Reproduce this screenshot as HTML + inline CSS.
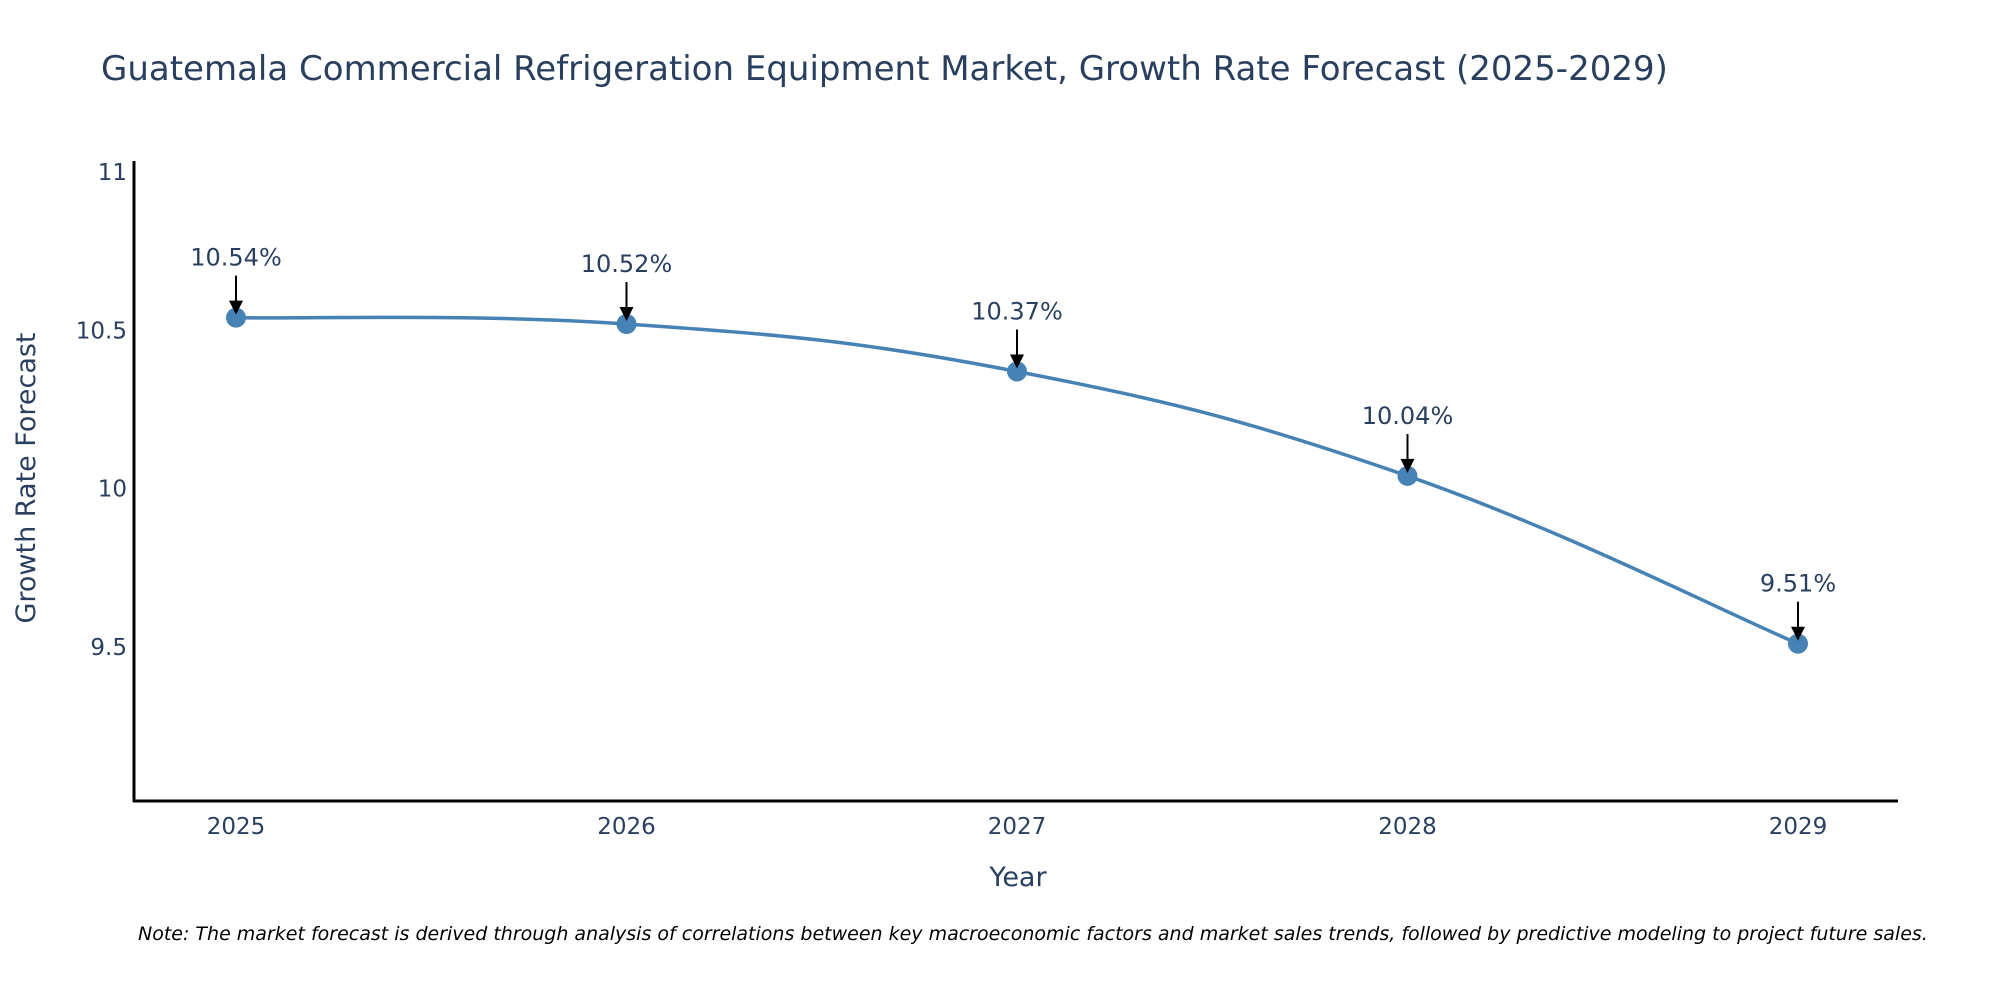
<!DOCTYPE html>
<html><head><meta charset="utf-8">
<style>
html,body{margin:0;padding:0;background:#fff;}
svg{display:block;font-family:"DejaVu Sans","Liberation Sans",sans-serif;}
</style></head>
<body>
<svg id="chart" width="2000" height="1000" viewBox="0 0 2000 1000">
  <text x="101" y="80" font-size="34" fill="#2a3f5f">Guatemala Commercial Refrigeration Equipment Market, Growth Rate Forecast (2025-2029)</text>
  <g id="yticks"></g>
  <g id="xticks"></g>
  <g id="series"></g>
  <g id="annots"></g>
  <line x1="134" y1="161" x2="134" y2="802" stroke="#000" stroke-width="3"/>
  <line x1="133" y1="801" x2="1898" y2="801" stroke="#000" stroke-width="3"/>
  <text transform="translate(35,478) rotate(-90)" text-anchor="middle" font-size="27" fill="#2a3f5f">Growth Rate Forecast</text>
  <text x="1018" y="886" text-anchor="middle" font-size="27" fill="#2a3f5f">Year</text>
  <text x="138" y="940" font-size="19" font-style="italic" fill="#000">Note: The market forecast is derived through analysis of correlations between key macroeconomic factors and market sales trends, followed by predictive modeling to project future sales.</text>
</svg>
<script>
const categories = ["2025","2026","2027","2028","2029"];
const values = [10.54, 10.52, 10.37, 10.04, 9.51];
const valueLabels = ["10.54%","10.52%","10.37%","10.04%","9.51%"];
const yTickValues = [9.5, 10, 10.5, 11];
const yTickLabels = ["9.5","10","10.5","11"];

const NS = "http://www.w3.org/2000/svg";
const yMin = 9.013, yMax = 11.035, plotTop = 161, plotBottom = 801;
function yScale(v){ return plotBottom - (v - yMin) / (yMax - yMin) * (plotBottom - plotTop); }
const x0 = 236, xStep = 390.5;
function xScale(i){ return x0 + i * xStep; }
function mk(tag, attrs, parent){ const e = document.createElementNS(NS, tag); for (const k in attrs) e.setAttribute(k, attrs[k]); parent.appendChild(e); return e; }

const yt = document.getElementById("yticks");
yTickValues.forEach((v, i) => {
  const t = mk("text", {x: 127, y: yScale(v) + 8, "text-anchor": "end", "font-size": 23, fill: "#2a3f5f"}, yt);
  
  
  t.textContent = yTickLabels[i];
});
const xt = document.getElementById("xticks");
categories.forEach((c, i) => {
  const t = mk("text", {x: xScale(i), y: 834, "text-anchor": "middle", "font-size": 23, fill: "#2a3f5f"}, xt);
  
  
  t.textContent = c;
});

const pts = values.map((v, i) => [xScale(i), yScale(v)]);
let d = "M" + pts[0][0] + "," + pts[0][1];
const tension = 0.2;
for (let i = 0; i < pts.length - 1; i++) {
  const p0 = pts[i-1] || pts[i], p1 = pts[i], p2 = pts[i+1], p3 = pts[i+2] || pts[i+1];
  const c1 = [p1[0] + (p2[0]-p0[0])*tension, p1[1] + (p2[1]-p0[1])*tension];
  const c2 = [p2[0] - (p3[0]-p1[0])*tension, p2[1] - (p3[1]-p1[1])*tension];
  d += " C" + c1.join(",") + " " + c2.join(",") + " " + p2.join(",");
}
const s = document.getElementById("series");
const line = mk("path", {d: d, fill: "none", stroke: "#4682b4", "stroke-width": 3.5}, s);


pts.forEach((p, i) => {
  const c = mk("circle", {cx: p[0], cy: p[1], r: 10, fill: "#4682b4"}, s);
  
  
});

const a = document.getElementById("annots");
pts.forEach((p, i) => {
  const ln = mk("line", {x1: p[0], y1: p[1] - 42, x2: p[0], y2: p[1] - 14, stroke: "#000", "stroke-width": 2}, a);
  
  
  const hd = mk("polygon", {points: (p[0]-7)+","+(p[1]-17)+" "+(p[0]+7)+","+(p[1]-17)+" "+p[0]+","+(p[1]-3), fill: "#000"}, a);
  
  
  const t = mk("text", {x: p[0], y: p[1] - 52, "text-anchor": "middle", "font-size": 24, fill: "#2a3f5f"}, a);
  
  
  t.textContent = valueLabels[i];
});
</script>
</body></html>
